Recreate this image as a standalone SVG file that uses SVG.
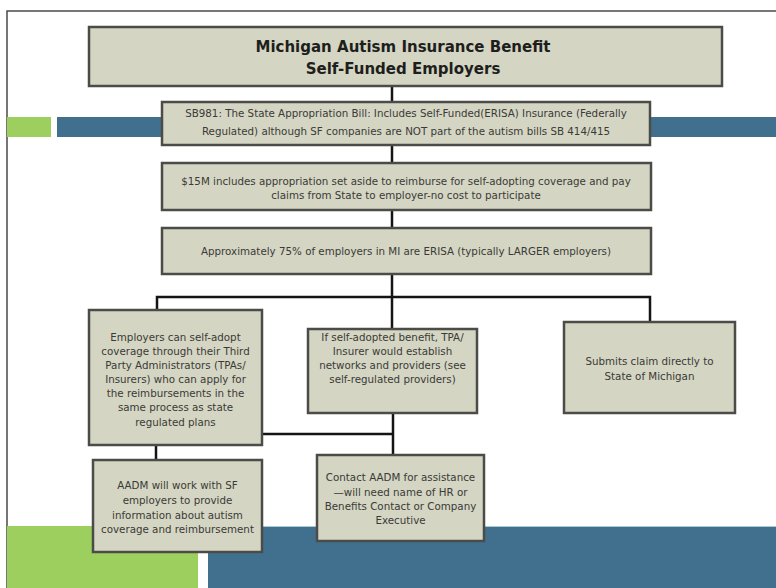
<svg xmlns="http://www.w3.org/2000/svg" width="776" height="588" viewBox="0 0 776 588">
<style>
.node{fill:#d4d5c3;stroke:#4b4c47;stroke-width:2.5}
.t{font-family:"DejaVu Sans","Liberation Sans",sans-serif;font-size:10.3px;fill:#3a3a36;text-anchor:middle}
.title{font-family:"DejaVu Sans","Liberation Sans",sans-serif;font-size:15px;font-weight:bold;fill:#1e1e1c;text-anchor:middle}
.c{fill:none;stroke:#141414;stroke-width:2.5}
</style>
<rect width="776" height="588" fill="#ffffff"/>
<g id="background">
<path d="M7 588 V11 H776" fill="none" stroke="#4a4a4a" stroke-width="1.5"/>
<rect x="7" y="117" width="44" height="20" fill="#9ccf5e"/>
<rect x="57" y="117" width="719" height="20" fill="#41708f"/>
<rect x="7" y="526" width="191" height="62" fill="#9ccf5e"/>
<rect x="208" y="526" width="568" height="62" fill="#41708f"/>
<line x1="208" y1="526.5" x2="776" y2="526.5" stroke="#a9cbd8" stroke-width="1"/>
</g>
<g id="connectors">
<line class="c" x1="392" y1="86" x2="392" y2="102"/>
<line class="c" x1="392" y1="145" x2="392" y2="163"/>
<line class="c" x1="392" y1="210" x2="392" y2="228"/>
<line class="c" x1="392" y1="274" x2="392" y2="329"/>
<path class="c" d="M157 310 V297 H650 V322"/>
<path class="c" d="M262 434 H393"/>
<line class="c" x1="393" y1="413" x2="393" y2="455"/>
<line class="c" x1="156" y1="445" x2="156" y2="460"/>
</g>
<g id="title">
<rect class="node" x="89" y="27" width="633" height="59"/>
<text class="title" x="403" y="52">Michigan Autism Insurance Benefit</text>
<text class="title" x="403" y="74">Self-Funded Employers</text>
</g>
<g id="sb981">
<rect class="node" x="162" y="102" width="488" height="43"/>
<text class="t" x="406" y="117">SB981: The State Appropriation Bill: Includes  Self-Funded(ERISA) Insurance (Federally</text>
<text class="t" x="406" y="135">Regulated) although SF companies are NOT part of the autism bills SB 414/415</text>
</g>
<g id="appropriation">
<rect class="node" x="162" y="163" width="489" height="47"/>
<text class="t" x="406" y="185">$15M includes  appropriation set aside to reimburse for self-adopting coverage and pay</text>
<text class="t" x="406" y="199">claims from State to employer-no cost to participate</text>
</g>
<g id="erisa">
<rect class="node" x="162" y="228" width="489" height="46"/>
<text class="t" x="406" y="255">Approximately 75% of employers in MI are ERISA (typically LARGER employers)</text>
</g>
<g id="self-adopt">
<rect class="node" x="89" y="310" width="173" height="135"/>
<text class="t" x="175.5" y="340.5">Employers can self-adopt</text>
<text class="t" x="175.5" y="354.7">coverage through their Third</text>
<text class="t" x="175.5" y="369">Party Administrators (TPAs/</text>
<text class="t" x="175.5" y="383">Insurers) who can apply for</text>
<text class="t" x="175.5" y="397">the reimbursements in the</text>
<text class="t" x="175.5" y="411">same process as state</text>
<text class="t" x="175.5" y="425.5">regulated plans</text>
</g>
<g id="tpa">
<rect class="node" x="308" y="329" width="169" height="84"/>
<text class="t" x="392.5" y="341">If self-adopted benefit, TPA/</text>
<text class="t" x="392.5" y="355">Insurer would establish</text>
<text class="t" x="392.5" y="369">networks and providers (see</text>
<text class="t" x="392.5" y="383">self-regulated providers)</text>
</g>
<g id="submit">
<rect class="node" x="564" y="322" width="171" height="91"/>
<text class="t" x="649.5" y="364.5">Submits claim directly to</text>
<text class="t" x="649.5" y="379.5">State of Michigan</text>
</g>
<g id="aadm-work">
<rect class="node" x="93" y="460" width="169" height="92"/>
<text class="t" x="177.5" y="488.5">AADM will work with SF</text>
<text class="t" x="177.5" y="503.5">employers to provide</text>
<text class="t" x="177.5" y="518.5">information about autism</text>
<text class="t" x="177.5" y="532.5">coverage and reimbursement</text>
</g>
<g id="contact">
<rect class="node" x="317" y="455" width="167" height="86"/>
<text class="t" x="400.5" y="480.5">Contact AADM for assistance</text>
<text class="t" x="400.5" y="495.5">—will need name of HR or</text>
<text class="t" x="400.5" y="509.5">Benefits Contact or Company</text>
<text class="t" x="400.5" y="523.5">Executive</text>
</g>
</svg>
